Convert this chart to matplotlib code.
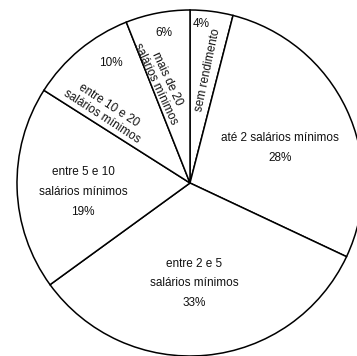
import numpy as np
import matplotlib
matplotlib.use("Agg")
import matplotlib.pyplot as plt

# income groups, clockwise from the top
labels = ["sem rendimento", "até 2 salários mínimos", "entre 2 e 5\nsalários mínimos",
          "entre 5 e 10\nsalários mínimos", "entre 10 e 20\nsalários mínimos",
          "mais de 20\nsalários mínimos"]
shares = [4, 28, 33, 19, 10, 6]

plt.rcParams['font.family'] = ['Liberation Sans', 'DejaVu Sans']

fig = plt.figure(figsize=(3.57, 3.56), dpi=100)
# pie centre at (190,183) px, radius 173 px
ax = fig.add_axes([(190 - 173) / 357, (356 - 183 - 173) / 356, 346 / 357, 346 / 356])
wedges, _ = ax.pie(shares, startangle=90, counterclock=False,
                   colors=["white"] * len(shares),
                   wedgeprops=dict(edgecolor="black", linewidth=1.1))
ax.set_xlim(-1, 1)
ax.set_ylim(-1, 1)
ax.axis("off")

fs = 8.5

def place(i, r, text, rot=0, dang=0.0, ls=1.85):
    w = wedges[i]
    mid = np.deg2rad((w.theta1 + w.theta2) / 2 + dang)
    ax.text(r * np.cos(mid), r * np.sin(mid), text, ha="center", va="center",
            rotation=rot, rotation_mode="anchor", fontsize=fs, linespacing=ls,
            color="#111111")

# label layout per slice: (radius, rotation, angle offset)
place(0, 0.66, labels[0], 78, -2)
place(0, 0.92, f"{shares[0]}%", 0, 3)
place(1, 0.56, f"{labels[1]}\n{shares[1]}%", 0, -4)
place(2, 0.58, f"{labels[2]}\n{shares[2]}%", 0, -3)
place(3, 0.62, f"{labels[3]}\n{shares[3]}%", 0, 3)
place(4, 0.64, labels[4], -33, 10, ls=1.1)
place(4, 0.83, f"{shares[4]}%", 0, -6)
place(5, 0.61, labels[5], -65, 5, ls=1.0)
place(5, 0.88, f"{shares[5]}%", 0, -1)

fig.savefig("out.png", dpi=100)
